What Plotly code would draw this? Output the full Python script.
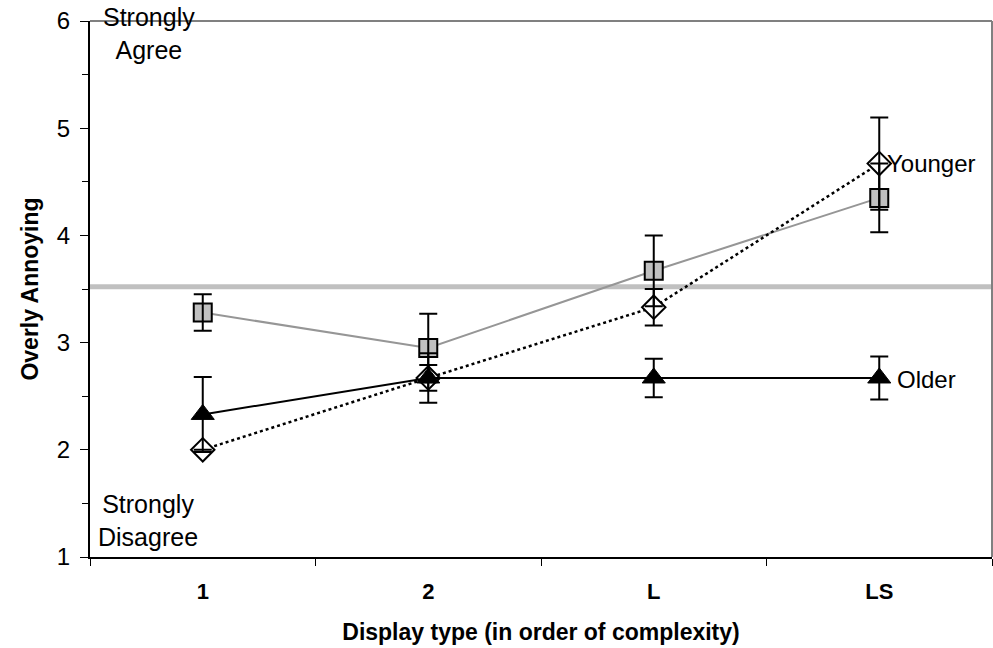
import plotly.graph_objects as go

categories = ["1", "2", "L", "LS"]

overall = [3.28, 2.95, 3.67, 4.35]
overall_err = [0.17, 0.32, 0.33, 0.32]

older = [2.33, 2.67, 2.67, 2.67]
older_err = [0.35, 0.23, 0.18, 0.20]

younger = [2.0, 2.67, 3.33, 4.67]
younger_err = [0.0, 0.12, 0.17, 0.43]

reference_level = 3.52

y_ticks = [1, 2, 3, 4, 5, 6]

FONT = "Liberation Sans, Arial, sans-serif"

fig = go.Figure()

# horizontal reference line
fig.add_shape(type="line", xref="paper", x0=0, x1=1, yref="y",
              y0=reference_level, y1=reference_level,
              line=dict(color="#c0c0c0", width=5), layer="below")

# series lines + markers
fig.add_trace(go.Scatter(x=categories, y=overall, mode="lines+markers",
                         line=dict(color="#969696", width=2),
                         marker=dict(symbol="square", size=18, color="#c0c0c0",
                                     line=dict(color="black", width=2)),
                         showlegend=False))
fig.add_trace(go.Scatter(x=categories, y=younger, mode="lines+markers",
                         line=dict(color="black", width=2.5, dash="dot"),
                         marker=dict(symbol="diamond", size=18, color="white",
                                     line=dict(color="black", width=2)),
                         showlegend=False))
fig.add_trace(go.Scatter(x=categories, y=older, mode="lines+markers",
                         line=dict(color="black", width=2),
                         marker=dict(symbol="triangle-up", size=20, color="black",
                                     line=dict(color="black", width=1)),
                         showlegend=False))

# error bars on top of markers
for vals, errs in [(overall, overall_err), (younger, younger_err), (older, older_err)]:
    fig.add_trace(go.Scatter(x=categories, y=vals, mode="markers",
                             marker=dict(size=1, color="rgba(0,0,0,0)"),
                             error_y=dict(type="data", array=errs, visible=True,
                                          color="black", thickness=2, width=9),
                             showlegend=False, hoverinfo="skip"))

# top and right gray border
fig.add_shape(type="line", xref="paper", yref="paper", x0=0, x1=1, y0=1, y1=1,
              line=dict(color="#808080", width=2))
fig.add_shape(type="line", xref="paper", yref="paper", x0=1, x1=1, y0=0, y1=1,
              line=dict(color="#808080", width=2))

fig.add_annotation(x=-0.5, y=6.0, xref="x", yref="y", xanchor="left", yanchor="top",
                   xshift=11, yshift=20,
                   text="Strongly<br>Agree", showarrow=False, align="center",
                   font=dict(family=FONT, size=25, color="black"))
fig.add_annotation(x=-0.5, y=1.0, xref="x", yref="y", xanchor="left", yanchor="bottom",
                   xshift=6, yshift=4,
                   text="Strongly<br>Disagree", showarrow=False, align="center",
                   font=dict(family=FONT, size=25, color="black"))
fig.add_annotation(x="LS", y=younger[3], xref="x", yref="y", xanchor="left",
                   xshift=6, text="Younger", showarrow=False,
                   font=dict(family=FONT, size=24, color="black"))
fig.add_annotation(x="LS", y=older[3], xref="x", yref="y", xanchor="left",
                   xshift=16, yshift=-2, text="Older", showarrow=False,
                   font=dict(family=FONT, size=24, color="black"))

fig.update_layout(
    width=993, height=648,
    margin=dict(l=90, r=1, t=21, b=91),
    paper_bgcolor="white", plot_bgcolor="white",
    font=dict(family=FONT, size=24, color="black"),
    showlegend=False,
)
fig.update_xaxes(type="category", categoryorder="array", categoryarray=categories,
                 range=[-0.5, 3.5], tickson="boundaries", automargin=False,
                 showline=True, linecolor="black", linewidth=2,
                 ticks="outside", ticklen=7, tickcolor="black", tickwidth=1,
                 ticklabelstandoff=14,
                 showgrid=False, zeroline=False,
                 tickfont=dict(family=FONT, size=22, color="black", weight="bold"),
                 title=dict(text="<b>Display type (in order of complexity)</b>",
                            font=dict(family=FONT, size=23, color="black"), standoff=20))
fig.update_yaxes(range=[1, 6], tickvals=y_ticks, automargin=False,
                 showline=True, linecolor="black", linewidth=2,
                 ticks="outside", ticklen=8, tickcolor="black", tickwidth=1,
                 ticklabelstandoff=5,
                 minor=dict(dtick=0.5, ticks="outside", ticklen=6, tickcolor="black", tickwidth=1,
                            showgrid=False),
                 showgrid=False, zeroline=False,
                 tickfont=dict(family=FONT, size=24, color="black"),
                 title=dict(text="<b>Overly Annoying</b>",
                            font=dict(family=FONT, size=23, color="black"), standoff=12))

fig.write_html("out.html", config={"displayModeBar": False},
               post_script="document.body.style.margin='0';document.body.style.overflow='hidden';")
